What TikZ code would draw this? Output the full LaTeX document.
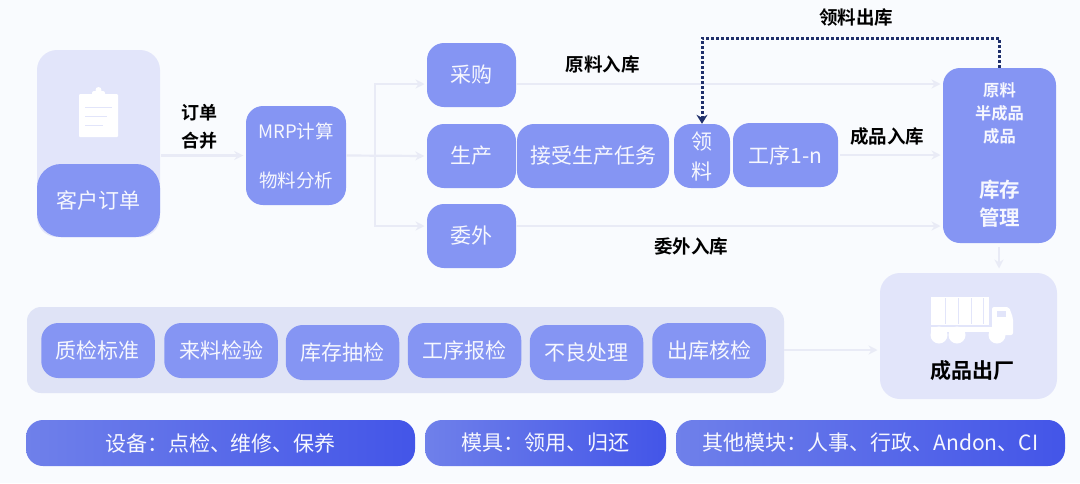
\documentclass[tikz,border=0pt]{standalone}
\usepackage{fontspec}
\setmainfont{Noto Sans CJK SC}[BoldFont={Noto Sans CJK SC Bold}]
\usetikzlibrary{arrows.meta}
\definecolor{pagebg}{HTML}{F9FBFE}
\definecolor{boxblue}{HTML}{8595F3}
\definecolor{palebox}{HTML}{E2E5FA}
\definecolor{panelbg}{HTML}{DFE3F6}
\definecolor{linegray}{HTML}{E9EBF6}
\definecolor{dotnavy}{HTML}{1F2F6B}
\definecolor{gradleft}{HTML}{6F80EA}
\definecolor{gradright}{HTML}{4355E8}
\definecolor{softwhite}{HTML}{F6F7FE}
\tikzset{
  x=1pt,y=-1pt,
  bluebox/.style={fill=boxblue,rounded corners=17pt,inner sep=0pt,text=softwhite,align=center,font=\fontsize{21}{26}\selectfont},
  palepanel/.style={fill=palebox,rounded corners=20pt,inner sep=0pt},
  qcbox/.style={bluebox,minimum width=113.5pt,minimum height=55pt,font=\fontsize{21}{26}\selectfont},
  gradbar/.style={left color=gradleft,right color=gradright,rounded corners=17pt,inner sep=0pt,minimum height=46pt,text=softwhite,font=\fontsize{21}{26}\selectfont},
  tag/.style={inner sep=0pt,text=black,align=center,font=\fontsize{18.5}{27}\selectfont\bfseries},
  flow/.style={draw=linegray,line width=2.2pt,shorten >=2.5pt,-{Stealth[length=9pt,width=9pt]}},
  pull/.style={draw=dotnavy,line width=3pt,dash pattern=on 3pt off 2pt,-{Stealth[length=9pt,width=11pt]}}
}
\begin{document}
\begin{tikzpicture}
\useasboundingbox (0,0) rectangle (1080,483);
\fill[pagebg] (0,0) rectangle (1080,483);
% panels and boxes
\node[palepanel,minimum width=123pt,minimum height=187pt] (orderpanel) at (98.5,143.5) {};
\node[bluebox,rounded corners=24pt,minimum width=123pt,minimum height=73pt] (order) at (98.5,200.5) {客户订单};
\node[bluebox,minimum width=100pt,minimum height=99pt,font=\fontsize{18.5}{49}\selectfont] (mrp) at (296,155.5) {MRP计算\\物料分析};
\node[bluebox,minimum width=89pt,minimum height=64pt] (caigou) at (471.5,75) {采购};
\node[bluebox,minimum width=89pt,minimum height=64pt] (shengchan) at (471.5,156) {生产};
\node[bluebox,minimum width=89pt,minimum height=64pt] (weiwai) at (471.5,236) {委外};
\node[bluebox,minimum width=152pt,minimum height=64pt] (task) at (593,156) {接受生产任务};
\node[bluebox,minimum width=56pt,minimum height=64pt,font=\fontsize{21}{30}\selectfont] (lingliao) at (702,156) {领\\料};
\node[bluebox,minimum width=105pt,minimum height=64pt] (gongxu) at (785.5,155) {工序1-n};
\node[bluebox,minimum width=113pt,minimum height=175pt] (stock) at (999.5,155.5) {};
\node[palepanel,minimum width=177pt,minimum height=126pt] (ship) at (968.5,336) {};
\node[fill=panelbg,rounded corners=14pt,inner sep=0pt,minimum width=757pt,minimum height=86pt] (qcpanel) at (405.5,350) {};
\node[qcbox] (qc1) at (98,350.5) {质检标准};
\node[qcbox] (qc2) at (221,350.5) {来料检验};
\node[qcbox] (qc3) at (342.5,352.5) {库存抽检};
\node[qcbox] (qc4) at (464.5,350.5) {工序报检};
\node[qcbox] (qc5) at (586.5,352.5) {不良处理};
\node[qcbox] (qc6) at (709,350.5) {出库核检};
\node[gradbar,minimum width=389pt] (bar1) at (220.5,443) {设备：点检、维修、保养};
\node[gradbar,minimum width=241pt] (bar2) at (545.5,443) {模具：领用、归还};
\node[gradbar,minimum width=389pt] (bar3) at (870.5,443) {其他模块：人事、行政、Andon、CI};
% stock texts
\node[inner sep=0pt,text=softwhite,align=center,font=\fontsize{16.3}{23}\selectfont\bfseries] (stocklist) at (999.5,113) {原料\\半成品\\成品};
\node[inner sep=0pt,text=softwhite,align=center,font=\fontsize{20.5}{28}\selectfont\bfseries] (stockname) at (999.5,204) {库存\\管理};
\node[tag,font=\fontsize{21}{26}\selectfont\bfseries] (shiplabel) at (972,371) {成品出厂};
% free labels
\node[tag,font=\fontsize{18}{28}\selectfont\bfseries] (merge) at (199,127) {订单\\合并};
\node[tag] (l1) at (602.5,64) {原料入库};
\node[tag] (l2) at (887,136) {成品入库};
\node[tag] (l3) at (691,246) {委外入库};
\node[tag] (l4) at (856,17) {领料出库};
% connector helpers
\coordinate (branch) at (375,155.5);
\coordinate (cgin) at (427,84);
\coordinate (wwin) at (427,226);
\coordinate (cgout) at (516,84);
\coordinate (wwout) at (516,226);
\coordinate (stin1) at (943,84);
\coordinate (stin3) at (943,226);
\coordinate (stin2) at (943,155);
\coordinate (gxout) at (840,155);
\coordinate (ordout) at (161,155.5);
\coordinate (shipin) at (880,350);
\coordinate (stockout) at (999,247);
\coordinate (shiptop) at (999,271);
\coordinate (pulltop) at (999,38);
\coordinate (pullleft) at (702,38);
% connectors
\draw[flow] (ordout) -- (mrp.west);
\draw[flow] (mrp.east) -- (shengchan.west);
\draw[flow] (branch) |- (cgin);
\draw[flow] (branch) |- (wwin);
\draw[flow] (cgout) -- (stin1);
\draw[flow] (gxout) -- (stin2);
\draw[flow] (wwout) -- (stin3);
\draw[flow] (stockout) -- (shiptop);
\draw[flow] (qcpanel.east |- shipin) -- (shipin);
\draw[pull] (stock.north -| pulltop) -- (pulltop) -- (pullleft) -- (lingliao.north);
% clipboard icon
\fill[white,rounded corners=1pt] (79,94) rectangle (118,137);
\fill[white,rounded corners=2pt] (92,91) rectangle (105,98);
\fill[white] (98.5,90) circle (3);
\draw[palebox,line width=1pt] (85,107) -- (112,107) (85,116) -- (107,116) (85,125) -- (103,125);
% truck icon
\fill[white] (931,297) rectangle (989,325);
\foreach \sx in {945,958,971,983}{\draw[palebox,line width=0.8pt] (\sx,298) -- (\sx,324);}
\fill[white,rounded corners=2pt] (992,307) -- (1009,307) -- (1013,318) -- (1013,335) -- (992,335) -- cycle;
\fill[palebox] (997,311) rectangle (1006,317);
\fill[white] (931,327) rectangle (1010,332);
\fill[white] (939,335) circle (8.5) (957,335) circle (8.5) (997,335) circle (8.5);
\end{tikzpicture}
\end{document}
